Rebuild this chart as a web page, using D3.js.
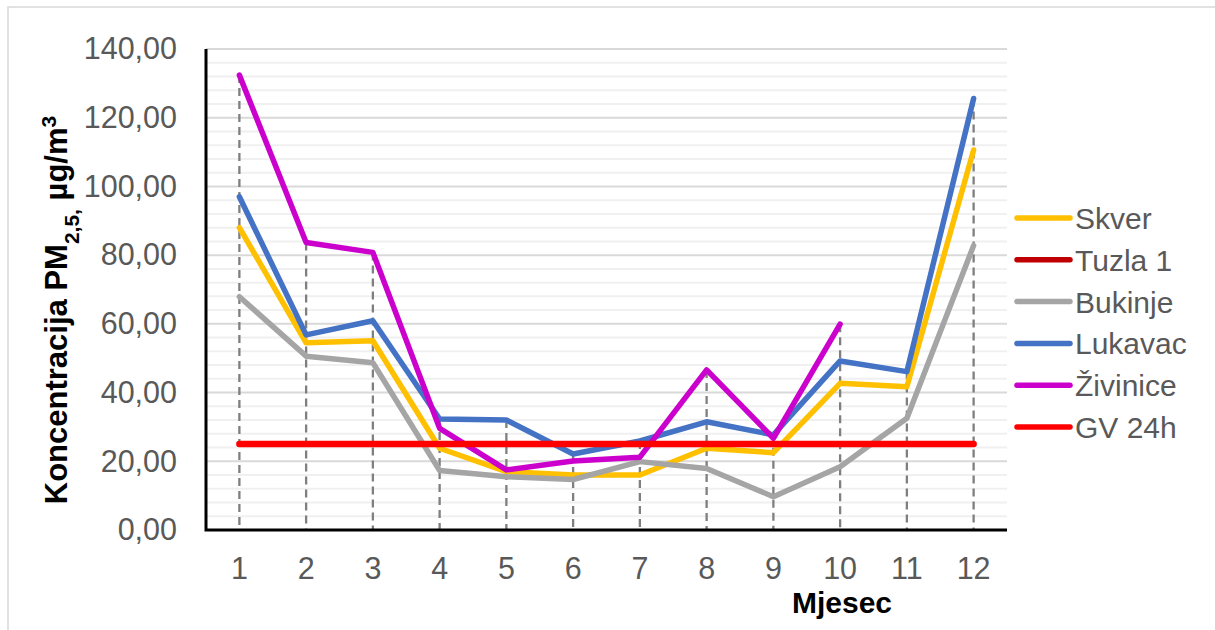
<!DOCTYPE html>
<html lang="en">
<head>
    <meta charset="UTF-8">
    <title>PM2,5 po mjesecima</title>
    <script src="https://cdn.jsdelivr.net/npm/d3@7"></script>
    <style>
        body {
            margin: 0;
            background-color: #fff;
        }

        text {
            font-family: "Liberation Sans", Arial, sans-serif;
        }

        .tick-label {
            fill: #595959;
            font-size: 30.5px;
        }

        .legend-label {
            fill: #595959;
            font-size: 30px;
        }

        .axis-title {
            fill: #000;
            font-weight: bold;
        }
    </style>
</head>
<body>
    <script>
        const months = [1, 2, 3, 4, 5, 6, 7, 8, 9, 10, 11, 12];
        const yTicks = [0, 20, 40, 60, 80, 100, 120, 140];

        const skver = [88.0, 54.5, 55.1, 23.8, 17.0, 16.0, 16.0, 23.8, 22.5, 42.7, 41.7, 110.6];
        const tuzla1 = [null, null, null, null, null, null, null, null, null, null, null, null];
        const bukinje = [67.9, 50.6, 48.7, 17.3, 15.5, 14.7, 19.9, 17.9, 9.7, 18.4, 32.5, 82.8];
        const lukavac = [97.0, 56.8, 60.9, 32.3, 32.0, 22.1, 25.9, 31.5, 27.7, 49.2, 46.1, 125.6];
        const zivinice = [132.4, 83.7, 80.8, 29.6, 17.5, 20.1, 21.2, 46.6, 26.7, 59.9, null, null];
        const gv24h = [25, 25, 25, 25, 25, 25, 25, 25, 25, 25, 25, 25];

        const seriesNames = ['Skver', 'Tuzla 1', 'Bukinje', 'Lukavac', 'Živinice', 'GV 24h'];
        const seriesColors = ['#ffc000', '#c00000', '#a5a5a5', '#4472c4', '#cc00cc', '#ff0000'];
        const seriesValues = [skver, tuzla1, bukinje, lukavac, zivinice, gv24h];

        const w = 1215;
        const h = 630;
        const plotLeft = 206, plotRight = 1007, plotTop = 49, plotBottom = 530;

        const svg = d3.select('body')
            .append('svg')
            .attr('width', w)
            .attr('height', h);

        // outer chart frame
        svg.append('rect')
            .attr('x', 8)
            .attr('y', 7)
            .attr('width', w + 50)
            .attr('height', h + 50)
            .attr('fill', 'none')
            .attr('stroke', '#d9d9d9')
            .attr('stroke-width', 1.5);

        const xScale = d3.scaleBand(months, [plotLeft, plotRight]);
        const xPos = m => xScale(m) + xScale.bandwidth() / 2;
        const yScale = d3.scaleLinear([0, 140], [plotBottom, plotTop]);

        // minor gridlines every 4, major every 20
        const minor = d3.range(4, 140, 4).filter(v => v % 20 !== 0);
        svg.append('g')
            .selectAll('line')
            .data(minor)
            .enter()
            .append('line')
            .attr('x1', plotLeft)
            .attr('x2', plotRight)
            .attr('y1', d => yScale(d))
            .attr('y2', d => yScale(d))
            .attr('stroke', '#f0f0f0')
            .attr('stroke-width', 2);

        svg.append('g')
            .selectAll('line')
            .data(yTicks.slice(1))
            .enter()
            .append('line')
            .attr('x1', plotLeft)
            .attr('x2', plotRight)
            .attr('y1', d => yScale(d))
            .attr('y2', d => yScale(d))
            .attr('stroke', '#d9d9d9')
            .attr('stroke-width', 2);

        // drop lines from highest point down to the axis
        const maxByMonth = months.map((m, i) => d3.max(seriesValues.slice(0, 5), s => s[i]));
        svg.append('g')
            .selectAll('line')
            .data(months)
            .enter()
            .append('line')
            .attr('x1', d => xPos(d))
            .attr('x2', d => xPos(d))
            .attr('y1', (d, i) => yScale(maxByMonth[i]))
            .attr('y2', plotBottom)
            .attr('stroke', '#7f7f7f')
            .attr('stroke-width', 2.3)
            .attr('stroke-dasharray', '8,5');

        const line = d3.line()
            .defined(d => d != null)
            .x((d, i) => xPos(months[i]))
            .y(d => yScale(d));

        seriesValues.forEach((vals, k) => {
            svg.append('path')
                .datum(vals)
                .attr('d', line)
                .attr('fill', 'none')
                .attr('stroke', seriesColors[k])
                .attr('stroke-width', k === 5 ? 6.5 : 5.5)
                .attr('stroke-linejoin', 'round')
                .attr('stroke-linecap', 'round');
        });

        // axes
        const yAxis = svg.append('g')
            .attr('transform', `translate(${plotLeft}, 0)`)
            .call(d3.axisLeft(yScale).tickValues(yTicks).tickSize(0).tickPadding(29)
                .tickFormat(d => d.toFixed(2).replace('.', ',')));
        yAxis.select('.domain').remove();
        yAxis.selectAll('text').attr('class', 'tick-label').attr('fill', null);

        const xAxis = svg.append('g')
            .attr('transform', `translate(0, ${plotBottom})`)
            .call(d3.axisBottom(xScale).tickSize(0).tickPadding(27));
        xAxis.select('.domain').remove();
        xAxis.selectAll('text').attr('class', 'tick-label').attr('fill', null);

        svg.append('path')
            .attr('d', `M${plotLeft},${plotTop} V${plotBottom} H${plotRight}`)
            .attr('fill', 'none')
            .attr('stroke', '#000')
            .attr('stroke-width', 3);

        // axis titles
        svg.append('text')
            .attr('class', 'axis-title')
            .attr('x', 842)
            .attr('y', 613)
            .attr('text-anchor', 'middle')
            .style('font-size', '30px')
            .text('Mjesec');

        const yTitle = svg.append('text')
            .attr('class', 'axis-title')
            .attr('transform', 'translate(67, 310) rotate(-90)')
            .attr('text-anchor', 'middle')
            .style('font-size', '31px');
        yTitle.append('tspan').text('Koncentracija PM');
        yTitle.append('tspan').attr('baseline-shift', 'sub').style('font-size', '21px').text('2,5,');
        yTitle.append('tspan').text('  µg/m');
        yTitle.append('tspan').attr('baseline-shift', 'super').style('font-size', '21px').text('3');

        // legend
        const legend = svg.append('g');
        seriesNames.forEach((name, i) => {
            const y = 218 + i * 41.8;
            legend.append('line')
                .attr('x1', 1017)
                .attr('x2', 1070)
                .attr('y1', y)
                .attr('y2', y)
                .attr('stroke', seriesColors[i])
                .attr('stroke-width', 5.5)
                .attr('stroke-linecap', 'round');
            legend.append('text')
                .attr('class', 'legend-label')
                .attr('x', 1075)
                .attr('y', y + 11)
                .text(name);
        });
    </script>
</body>
</html>
